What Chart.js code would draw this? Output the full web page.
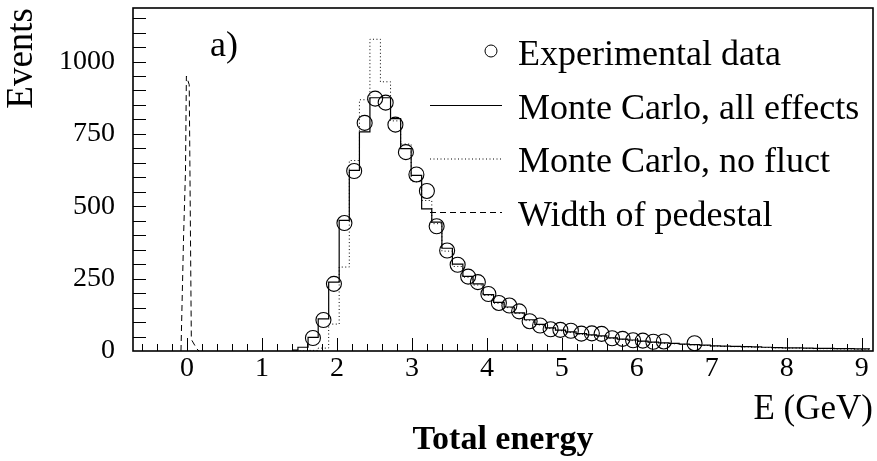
<!DOCTYPE html>
<html>
<head>
<meta charset="utf-8">
<script src="https://cdn.jsdelivr.net/npm/chart.js@4.4.0/dist/chart.umd.min.js"></script>
<style>
  html, body { margin: 0; padding: 0; background: #fff; }
  #wrap { width: 877px; height: 461px; }
</style>
</head>
<body>
<div id="wrap"><canvas id="chart" width="877" height="461"></canvas></div>
<script>
// Histogram bin centres (GeV), shared by both Monte Carlo curves.
const binCenters = [1.41, 1.55, 1.68, 1.82, 1.96, 2.10, 2.23, 2.37, 2.51, 2.65, 2.78, 2.92, 3.06, 3.20, 3.33, 3.47,
  3.61, 3.75, 3.88, 4.02, 4.16, 4.30, 4.43, 4.57, 4.71, 4.85, 4.98, 5.12, 5.26, 5.40, 5.53, 5.67, 5.81, 5.95,
  6.08, 6.22, 6.36, 6.50, 6.63, 6.77, 6.91, 7.05, 7.18, 7.32, 7.46, 7.60, 7.73, 7.87, 8.01, 8.15, 8.28, 8.42,
  8.56, 8.70, 8.83, 8.97, 9.11];

const mcAllEffects = [3, 13, 47, 111, 238, 451, 624, 757, 875, 875, 803, 699, 607, 491, 445, 355,
  300, 258, 232, 195, 168, 152, 132, 108, 92, 80, 72, 66, 60, 56, 52, 45, 41, 38,
  34, 31, 28, 26, 24, 22, 20, 18, 17, 16, 15, 14, 13, 12, 11, 11, 10, 9,
  9, 8, 8, 7, 7];

const mcNoFluct = [0, 0, 2, 10, 93, 290, 658, 868, 1077, 930, 795, 715, 585, 520, 440, 345,
  292, 255, 228, 192, 165, 150, 130, 105, 90, 78, 70, 64, 58, 54, 50, 44, 40, 36,
  33, 30, 27, 25, 23, 21, 19, 17, 16, 15, 14, 13, 12, 11, 10, 10, 9, 8,
  8, 7, 7, 6, 6];

// Experimental points
const dataE = [1.68, 1.82, 1.96, 2.10, 2.23, 2.37, 2.51, 2.65, 2.78, 2.92, 3.06, 3.20, 3.33, 3.47, 3.61, 3.75,
  3.88, 4.02, 4.16, 4.30, 4.43, 4.57, 4.71, 4.85, 4.98, 5.12, 5.26, 5.40, 5.53, 5.67, 5.81, 5.95, 6.08, 6.22,
  6.36, 6.77];
const dataEvents = [45, 107, 232, 442, 622, 788, 872, 858, 782, 687, 610, 553, 431, 347, 298, 257,
  238, 197, 166, 157, 137, 103, 88, 75, 73, 70, 60, 61, 59, 44, 42, 37, 36, 32,
  33, 27];

// Pedestal peak
const pedestalE = [-0.08, -0.045, -0.02, -0.008, 0.03, 0.058, 0.13, 0.16];
const pedestalEvents = [0, 400, 620, 950, 920, 40, 8, 0];

const xTickValues = [0, 1, 2, 3, 4, 5, 6, 7, 8, 9];
const yTickValues = [0, 250, 500, 750, 1000];

const serif = "'Liberation Serif', 'Times New Roman', serif";

function points(xs, ys) {
  return xs.map((x, i) => ({ x: x, y: ys[i] }));
}

// Frame around the plot, inward tick marks, panel label and legend.
const framePlugin = {
  id: "frame",
  afterDraw(chart) {
    const { ctx, chartArea: a, scales } = chart;
    const xs = scales.x, ys = scales.y;
    ctx.save();
    ctx.strokeStyle = "#000";
    ctx.lineWidth = 1;
    ctx.beginPath();
    for (let v = -0.6; v <= 9.05; v += 0.2) {
      const px = Math.round(xs.getPixelForValue(v)) + 0.5;
      const major = Math.abs(v - Math.round(v)) < 0.01;
      ctx.moveTo(px, a.bottom);
      ctx.lineTo(px, a.bottom - (major ? 13 : 7));
    }
    for (let v = 50; v < ys.max; v += 50) {
      const py = Math.round(ys.getPixelForValue(v)) + 0.5;
      ctx.moveTo(a.left, py);
      ctx.lineTo(a.left + 13, py);
    }
    ctx.stroke();
    ctx.lineWidth = 1.6;
    ctx.strokeRect(a.left, a.top, a.right - a.left, a.bottom - a.top);

    ctx.fillStyle = "#000";
    ctx.font = "36px " + serif;
    ctx.textBaseline = "alphabetic";
    ctx.fillText("a)", 210, 56);

    // legend
    const textX = 518, lineX0 = 430, lineX1 = 502;
    chart.data.datasets.forEach((ds, i) => {
      const base = 65 + i * 53.5;
      const my = base - 13;
      ctx.fillText(ds.label, textX, base);
      ctx.beginPath();
      if (ds.showLine === false) {
        ctx.lineWidth = 1;
        ctx.setLineDash([]);
        ctx.arc(491, my - 1, 6, 0, Math.PI * 2);
      } else {
        ctx.lineWidth = 1;
        ctx.setLineDash(ds.borderDash || []);
        ctx.moveTo(lineX0, my);
        ctx.lineTo(lineX1, my);
      }
      ctx.stroke();
    });
    ctx.restore();
  },
};

new Chart(document.getElementById("chart"), {
  type: "line",
  data: {
    datasets: [
      {
        label: "Experimental data",
        data: points(dataE, dataEvents),
        showLine: false,
        pointStyle: "circle",
        pointRadius: 7.5,
        pointBorderWidth: 1.1,
        pointBorderColor: "#000",
        pointBackgroundColor: "rgba(0,0,0,0)",
      },
      {
        label: "Monte Carlo, all effects",
        data: points(binCenters, mcAllEffects),
        stepped: "middle",
        borderColor: "#000",
        borderWidth: 1.2,
        pointRadius: 0,
      },
      {
        label: "Monte Carlo, no fluct",
        data: points(binCenters, mcNoFluct),
        stepped: "middle",
        borderColor: "#000",
        borderWidth: 1,
        borderDash: [1, 2.5],
        pointRadius: 0,
      },
      {
        label: "Width of pedestal",
        data: points(pedestalE, pedestalEvents),
        borderColor: "#000",
        borderWidth: 1,
        borderDash: [6, 4],
        pointRadius: 0,
      },
    ],
  },
  options: {
    responsive: false,
    animation: false,
    devicePixelRatio: 1,
    layout: { autoPadding: false, padding: { top: 8, right: 4, left: 0, bottom: 0 } },
    plugins: {
      legend: { display: false },
      tooltip: { enabled: false },
      title: {
        display: true,
        text: "Total energy",
        position: "bottom",
        fullSize: false,
        color: "#000",
        font: { family: serif, size: 34, weight: "bold", lineHeight: 1 },
        padding: { top: 0, bottom: 4 },
      },
    },
    scales: {
      x: {
        type: "linear",
        min: -0.72,
        max: 9.15,
        afterBuildTicks: (s) => { s.ticks = xTickValues.map((v) => ({ value: v })); },
        afterFit: (s) => {
          s.height = 72;
          s.paddingLeft = 0;
          s.paddingRight = 0;
        },
        grid: { display: false, drawTicks: false },
        border: { display: false },
        ticks: {
          color: "#000",
          padding: 4,
          maxRotation: 0,
          autoSkip: false,
          font: { family: serif, size: 28, lineHeight: 1 },
        },
        title: {
          display: true,
          text: "E (GeV)",
          align: "end",
          color: "#000",
          font: { family: serif, size: 35, lineHeight: 1 },
          padding: { top: 0, bottom: -4 },
        },
      },
      y: {
        min: 0,
        max: 1185,
        afterBuildTicks: (s) => { s.ticks = yTickValues.map((v) => ({ value: v })); },
        afterFit: (s) => {
          s.width = 133;
          s.paddingTop = 0;
          s.paddingBottom = 0;
        },
        grid: { display: false, drawTicks: false },
        border: { display: false },
        ticks: {
          color: "#000",
          padding: 18,
          callback: (v) => String(v),
          font: { family: serif, size: 28, lineHeight: 1 },
        },
        title: {
          display: true,
          text: "Events",
          align: "end",
          color: "#000",
          font: { family: serif, size: 37, lineHeight: 1 },
          padding: { top: 4, bottom: 0 },
        },
      },
    },
  },
  plugins: [framePlugin],
});
</script>
</body>
</html>
